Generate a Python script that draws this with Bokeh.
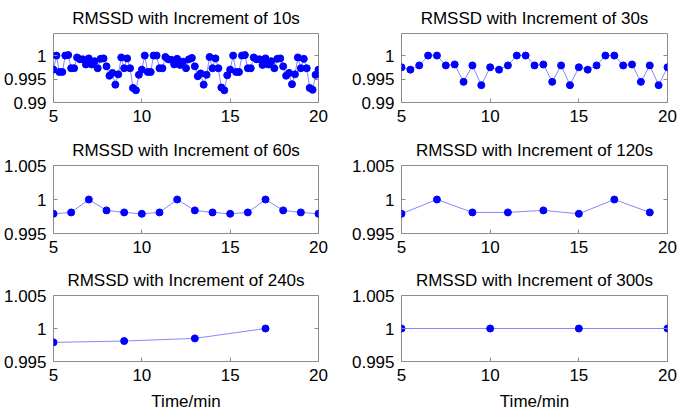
from bokeh.plotting import figure
from bokeh.layouts import column, row
from bokeh.models import LinearAxis, FixedTicker, Range1d
from bokeh.embed import file_html
from bokeh.resources import INLINE

# ---------------- data ----------------
t10 = [5 + k * 10 / 60 for k in range(91)]
v10 = [0.9970, 1.0000, 0.9965, 0.9965, 1.0000, 1.0001, 0.9973, 0.9973, 0.9996, 0.9992,
       0.9992, 0.9981, 0.9994, 0.9981, 0.9988, 0.9973, 0.9993, 0.9994, 0.9977, 0.9957,
       0.9963, 0.9938, 0.9960, 0.9996, 0.9973, 0.9994, 0.9973, 0.9931, 0.9926, 0.9959,
       0.9970, 1.0000, 0.9965, 0.9965, 1.0000, 1.0000, 0.9973, 0.9973, 0.9997, 0.9992,
       0.9991, 0.9981, 0.9993, 0.9980, 0.9987, 0.9973, 0.9992, 0.9995, 0.9977, 0.9956,
       0.9962, 0.9938, 0.9959, 0.9997, 0.9973, 0.9994, 0.9973, 0.9932, 0.9926, 0.9958,
       0.9970, 1.0000, 0.9965, 0.9965, 1.0000, 1.0001, 0.9973, 0.9973, 0.9996, 0.9992,
       0.9992, 0.9980, 0.9994, 0.9981, 0.9988, 0.9973, 0.9993, 0.9994, 0.9977, 0.9957,
       0.9963, 0.9939, 0.9960, 0.9996, 0.9973, 0.9993, 0.9973, 0.9931, 0.9927, 0.9959,
       0.9970]

t30 = [5 + k * 0.5 for k in range(31)]
v30 = [0.9975, 0.9970, 0.9979, 1.0000, 1.0000, 0.9979, 0.9981, 0.9944, 0.9979, 0.9937,
       0.9975, 0.9970, 0.9979, 1.0000, 1.0000, 0.9979, 0.9981, 0.9944, 0.9979, 0.9937,
       0.9975, 0.9970, 0.9979, 1.0000, 1.0000, 0.9979, 0.9981, 0.9944, 0.9979, 0.9937,
       0.9975]

t60 = [5, 6, 7, 8, 9, 10, 11, 12, 13, 14, 15, 16, 17, 18, 19, 20]
v60 = [0.9979, 0.9981, 1.0000, 0.9984, 0.9981, 0.9979, 0.9981, 1.0000, 0.9984, 0.9981,
       0.9979, 0.9981, 1.0000, 0.9984, 0.9981, 0.9979]

t120 = [5, 7, 9, 11, 13, 15, 17, 19]
v120 = [0.9979, 1.0000, 0.9981, 0.9981, 0.9984, 0.9979, 1.0000, 0.9981]

t240 = [5, 9, 13, 17]
v240 = [0.9979, 0.9981, 0.9985, 1.0000]

t300 = [5, 10, 15, 20]
v300 = [1.0, 1.0, 1.0, 1.0]

titles = ["RMSSD with Increment of 10s", "RMSSD with Increment of 30s",
          "RMSSD with Increment of 60s", "RMSSD with Increment of 120s",
          "RMSSD with Increment of 240s", "RMSSD with Increment of 300s"]
x_ticks = [5, 10, 15, 20]
y_ticks_top = [0.99, 0.995, 1.0]
y_ticks_low = [0.995, 1.0, 1.005]
x_label = "Time/min"

FONT = "Liberation Sans"
FRAME = "#8c8c8c"
FS = "17px"


def make(title, xs, ys, yr, yticks, left_col, row_idx):
    w = 340 if left_col else 339
    mbl = 50 if left_col else 61
    mbr = 22 if left_col else 12
    if row_idx == 0:
        h, mbt, mbb = 132, 32, 30
    elif row_idx == 1:
        h, mbt, mbb = 130, 30, 29
    else:
        h, mbt, mbb = 151, 31, 49
    p = figure(width=w, height=h, output_backend="svg", toolbar_location=None,
               x_range=Range1d(5, 20), y_range=Range1d(*yr),
               min_border_left=mbl, min_border_right=mbr,
               min_border_top=mbt, min_border_bottom=mbb,
               background_fill_color="white", border_fill_color="white")
    p.title.text = title
    p.title.align = "center"
    p.title.text_font = FONT
    p.title.text_font_size = FS
    p.title.text_font_style = "normal"
    p.title.text_color = "black"
    p.title.text_line_height = 1.0
    p.title.standoff = 12
    p.outline_line_color = FRAME
    p.outline_line_width = 1
    p.xgrid.visible = False
    p.ygrid.visible = False
    for ax in (p.xaxis[0], p.yaxis[0]):
        ax.axis_line_color = None
        ax.major_tick_line_color = FRAME
        ax.major_tick_in = 4
        ax.major_tick_out = 0
        ax.minor_tick_line_color = None
        ax.major_label_text_font = FONT
        ax.major_label_text_font_size = FS
        ax.major_label_text_color = "black"
        ax.major_label_standoff = 7
    p.xaxis[0].major_label_text_line_height = 1.0
    p.xaxis[0].ticker = FixedTicker(ticks=x_ticks)
    p.yaxis[0].ticker = FixedTicker(ticks=yticks)
    p.yaxis[0].major_label_overrides = {t: ("%g" % t) for t in yticks}
    if row_idx == 2:
        p.xaxis[0].axis_label = x_label
        p.xaxis[0].axis_label_text_font = FONT
        p.xaxis[0].axis_label_text_font_size = FS
        p.xaxis[0].axis_label_text_font_style = "normal"
        p.xaxis[0].axis_label_text_color = "black"
        p.xaxis[0].axis_label_text_line_height = 1.0
        p.xaxis[0].axis_label_standoff = 8
    # mirrored ticks on the right side (box style), labels not drawn
    ax = LinearAxis(ticker=FixedTicker(ticks=yticks))
    ax.axis_line_color = None
    ax.major_tick_line_color = FRAME
    ax.major_tick_in = 4
    ax.major_tick_out = 0
    ax.minor_tick_line_color = None
    ax.major_label_text_font_size = "1px"
    ax.major_label_text_color = None
    ax.major_label_standoff = 0
    p.add_layout(ax, "right")
    p.line(xs, ys, line_color="blue", line_width=0.8, line_alpha=0.6)
    p.scatter(xs, ys, size=7, fill_color="blue", line_color="blue")
    return p


top_yr = (0.99, 1.0047)
low_yr = (0.995, 1.005)
p1 = make(titles[0], t10, v10, top_yr, y_ticks_top, True, 0)
p2 = make(titles[1], t30, v30, top_yr, y_ticks_top, False, 0)
p3 = make(titles[2], t60, v60, low_yr, y_ticks_low, True, 1)
p4 = make(titles[3], t120, v120, low_yr, y_ticks_low, False, 1)
p5 = make(titles[4], t240, v240, low_yr, y_ticks_low, True, 2)
p6 = make(titles[5], t300, v300, low_yr, y_ticks_low, False, 2)

layout = column(row(p1, p2), row(p3, p4), row(p5, p6))
open("out.html", "w").write(file_html(layout, INLINE))
